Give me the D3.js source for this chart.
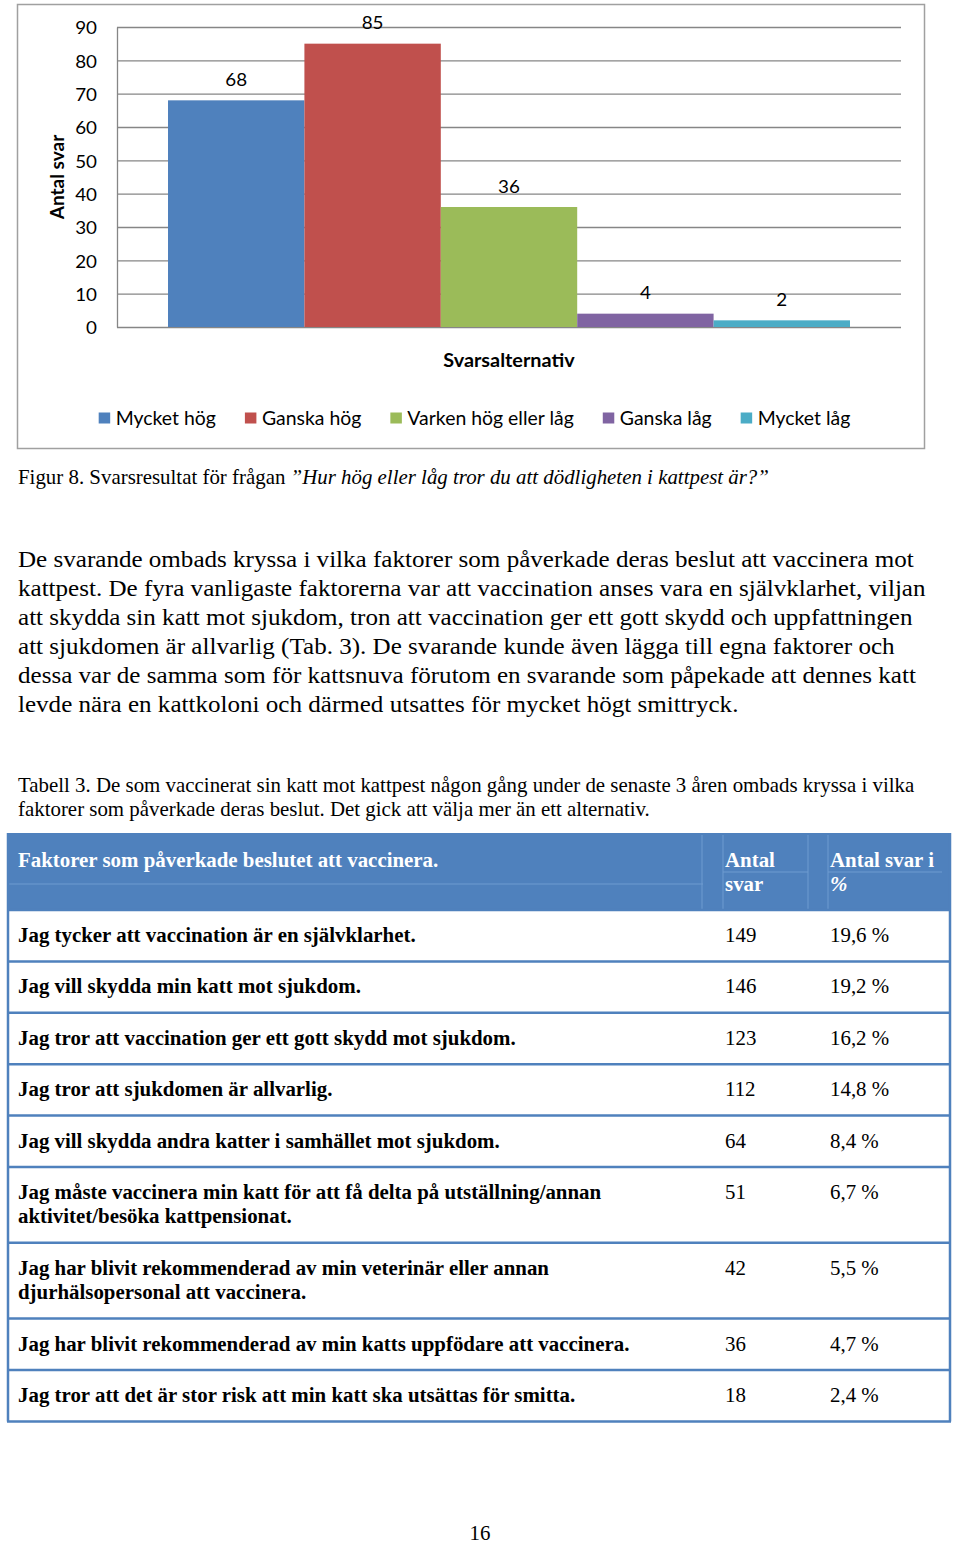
<!DOCTYPE html>
<html><head><meta charset="utf-8">
<script src="https://cdn.jsdelivr.net/npm/d3@7"></script>
<style>body{margin:0;background:#fff}svg{display:block}</style>
</head><body>
<script>
// ---- chart data ----
const categories = ["Mycket hög", "Ganska hög", "Varken hög eller låg", "Ganska låg", "Mycket låg"];
const values = [68, 85, 36, 4, 2];
const yTicks = [0, 10, 20, 30, 40, 50, 60, 70, 80, 90];
const palette = ["#4F81BD", "#C0504D", "#9BBB59", "#8064A2", "#4BACC6"];

// ---- table data ----
const factors = [
  "Jag tycker att vaccination är en självklarhet.",
  "Jag vill skydda min katt mot sjukdom.",
  "Jag tror att vaccination ger ett gott skydd mot sjukdom.",
  "Jag tror att sjukdomen är allvarlig.",
  "Jag vill skydda andra katter i samhället mot sjukdom.",
  "Jag måste vaccinera min katt för att få delta på utställning/annan\naktivitet/besöka kattpensionat.",
  "Jag har blivit rekommenderad av min veterinär eller annan\ndjurhälsopersonal att vaccinera.",
  "Jag har blivit rekommenderad av min katts uppfödare att vaccinera.",
  "Jag tror att det är stor risk att min katt ska utsättas för smitta."
];
const counts = [149, 146, 123, 112, 64, 51, 42, 36, 18];
const percents = ["19,6 %", "19,2 %", "16,2 %", "14,8 %", "8,4 %", "6,7 %", "5,5 %", "4,7 %", "2,4 %"];
const headers = ["Faktorer som påverkade beslutet att vaccinera.", "Antal\nsvar", "Antal svar i\n%"];

// ---- texts ----
const caption = ["Figur 8. Svarsresultat för frågan ", "”Hur hög eller låg tror du att dödligheten i kattpest är?”"];
const paragraph = [
  "De svarande ombads kryssa i vilka faktorer som påverkade deras beslut att vaccinera mot",
  "kattpest. De fyra vanligaste faktorerna var att vaccination anses vara en självklarhet, viljan",
  "att skydda sin katt mot sjukdom, tron att vaccination ger ett gott skydd och uppfattningen",
  "att sjukdomen är allvarlig (Tab. 3). De svarande kunde även lägga till egna faktorer och",
  "dessa var de samma som för kattsnuva förutom en svarande som påpekade att dennes katt",
  "levde nära en kattkoloni och därmed utsattes för mycket högt smittryck."
];
const tableCaption = [
  "Tabell 3. De som vaccinerat sin katt mot kattpest någon gång under de senaste 3 åren ombads kryssa i vilka",
  "faktorer som påverkade deras beslut. Det gick att välja mer än ett alternativ."
];
const pageNumber = "16";

const W = 960, H = 1547;
const SX = 1.045; // horizontal stretch of the page scan
const svg = d3.select("body").append("svg").attr("width", W).attr("height", H);
const sans = "Lato, 'Open Sans', sans-serif";
const serif = "'Liberation Serif', 'Times New Roman', serif";

// place a text element at (x,y) with horizontal stretch
function put(parent, x, y, str, fam, size, extra) {
  const t = parent.append("text").attr("transform", `translate(${x},${y}) scale(${SX},1)`)
    .attr("font-family", fam).attr("font-size", size).attr("fill", "#000");
  if (str != null) t.text(str);
  if (extra) extra(t);
  return t;
}

// ---- chart frame ----
svg.append("rect").attr("x", 17.5).attr("y", 4.5).attr("width", 907).attr("height", 444)
  .attr("fill", "#fff").attr("stroke", "#a0a0a0").attr("stroke-width", 1.5);

const plot = {left: 117, right: 901, top: 27, bottom: 327};
const y = d3.scaleLinear().domain([0, 90]).range([plot.bottom, plot.top]);
const x = d3.scaleBand().domain(categories).range([plot.left, plot.right]).paddingInner(0).paddingOuter(0.374);

const yAxis = d3.axisLeft(y).tickValues(yTicks).tickSize(-(plot.right - plot.left)).tickSizeOuter(0).tickPadding(20);
const gy = svg.append("g").attr("transform", `translate(${plot.left},0)`).call(yAxis);
gy.select(".domain").attr("stroke", "#868686").attr("stroke-width", 1.3);
gy.selectAll(".tick line").attr("stroke", "#868686").attr("stroke-width", 1.3);
gy.selectAll(".tick text").attr("font-family", sans).attr("font-size", 18).attr("fill", "#000")
  .attr("x", null).attr("dy", null).attr("dominant-baseline", "central")
  .attr("transform", `translate(-20,0) scale(${SX},1)`);

svg.append("g").selectAll("rect").data(categories).join("rect")
  .attr("x", d => x(d)).attr("width", x.bandwidth())
  .attr("y", (d, i) => y(values[i])).attr("height", (d, i) => y(0) - y(values[i]))
  .attr("fill", (d, i) => palette[i]);

const lblG = svg.append("g");
categories.forEach((c, i) => {
  put(lblG, x(c) + x.bandwidth() / 2, y(values[i]) - 14.5, values[i], sans, 18, t => t.attr("text-anchor", "middle"));
});

svg.append("text").attr("transform", `translate(64,${(plot.top + plot.bottom) / 2}) rotate(-90)`)
  .attr("text-anchor", "middle").attr("font-family", sans).attr("font-size", 19).attr("font-weight", "bold")
  .text("Antal svar");

put(svg, (plot.left + plot.right) / 2, 367, "Svarsalternativ", sans, 19,
  t => t.attr("text-anchor", "middle").attr("font-weight", "bold"));

// legend
const lg = svg.append("g");
let lx = 0;
categories.forEach((c, i) => {
  const g = lg.append("g").attr("transform", `translate(${lx},0)`);
  g.append("rect").attr("x", 0).attr("y", -5.5).attr("width", 11.5).attr("height", 11).attr("fill", palette[i]);
  const t = put(g, 17, 6.5, c, sans, 18.6);
  lx += 17 + t.node().getComputedTextLength() * SX + 29;
});
const legendW = lx - 29;
lg.attr("transform", `translate(${474.5 - legendW / 2},418)`);

// ---- caption & paragraph ----
put(svg, 18, 484, null, serif, 20, t => {
  t.append("tspan").text(caption[0]);
  t.append("tspan").attr("font-style", "italic").text(caption[1]);
});

paragraph.forEach((d, i) => put(svg, 18, 567 + i * 29, d, serif, 24));
tableCaption.forEach((d, i) => put(svg, 18, 792 + i * 24, d, serif, 20));

// ---- table ----
const tL = 7, tR = 951, tTop = 833, hdrB = 910;
const colX = [18, 725, 830];
const blue = "#4F81BD";
svg.append("rect").attr("x", tL).attr("y", tTop).attr("width", tR - tL).attr("height", hdrB - tTop).attr("fill", blue);
const hl = svg.append("g").attr("stroke", "#6f9bd0").attr("stroke-width", 1);
hl.append("line").attr("x1", tL).attr("x2", 703).attr("y1", 884).attr("y2", 884);
[702, 723, 808, 828].forEach(v => hl.append("line").attr("x1", v).attr("x2", v).attr("y1", tTop + 2).attr("y2", hdrB));
hl.append("line").attr("x1", 723).attr("x2", 808).attr("y1", 872).attr("y2", 872);
hl.append("line").attr("x1", 828).attr("x2", 942).attr("y1", 872).attr("y2", 872);

headers.forEach((h, j) => {
  h.split("\n").forEach((ln, k) => {
    put(svg, colX[j], 867 + k * 24.4, ln, serif, 20, t => t.attr("font-weight", "bold").attr("fill", "#fff")
      .attr("font-style", ln === "%" ? "italic" : null));
  });
});

let ry = hdrB;
const rowTops = [];
factors.forEach((f, i) => {
  const lines = f.split("\n");
  const h = 27 + 24.4 * lines.length;
  rowTops.push({top: ry, h, lines, i});
  ry += h;
});
const rows = svg.append("g").selectAll("g").data(rowTops).join("g");
rows.each(function(r) {
  const g = d3.select(this);
  r.lines.forEach((ln, k) => put(g, colX[0], r.top + 32 + k * 24.4, ln, serif, 20, t => t.attr("font-weight", "bold")));
  put(g, colX[1], r.top + 32, counts[r.i], serif, 20);
  put(g, colX[2], r.top + 32, percents[r.i], serif, 20);
  g.append("line").attr("x1", tL).attr("x2", tR).attr("y1", r.top + r.h).attr("y2", r.top + r.h)
    .attr("stroke", blue).attr("stroke-width", 2.5);
});
svg.append("line").attr("x1", tL).attr("x2", tR).attr("y1", hdrB).attr("y2", hdrB).attr("stroke", blue).attr("stroke-width", 2.5);
svg.append("line").attr("x1", tL + 1).attr("x2", tL + 1).attr("y1", tTop).attr("y2", ry).attr("stroke", blue).attr("stroke-width", 2.5);
svg.append("line").attr("x1", tR - 1).attr("x2", tR - 1).attr("y1", tTop).attr("y2", ry).attr("stroke", blue).attr("stroke-width", 2.5);

put(svg, 480, 1540, pageNumber, serif, 20, t => t.attr("text-anchor", "middle"));
</script>
</body></html>
